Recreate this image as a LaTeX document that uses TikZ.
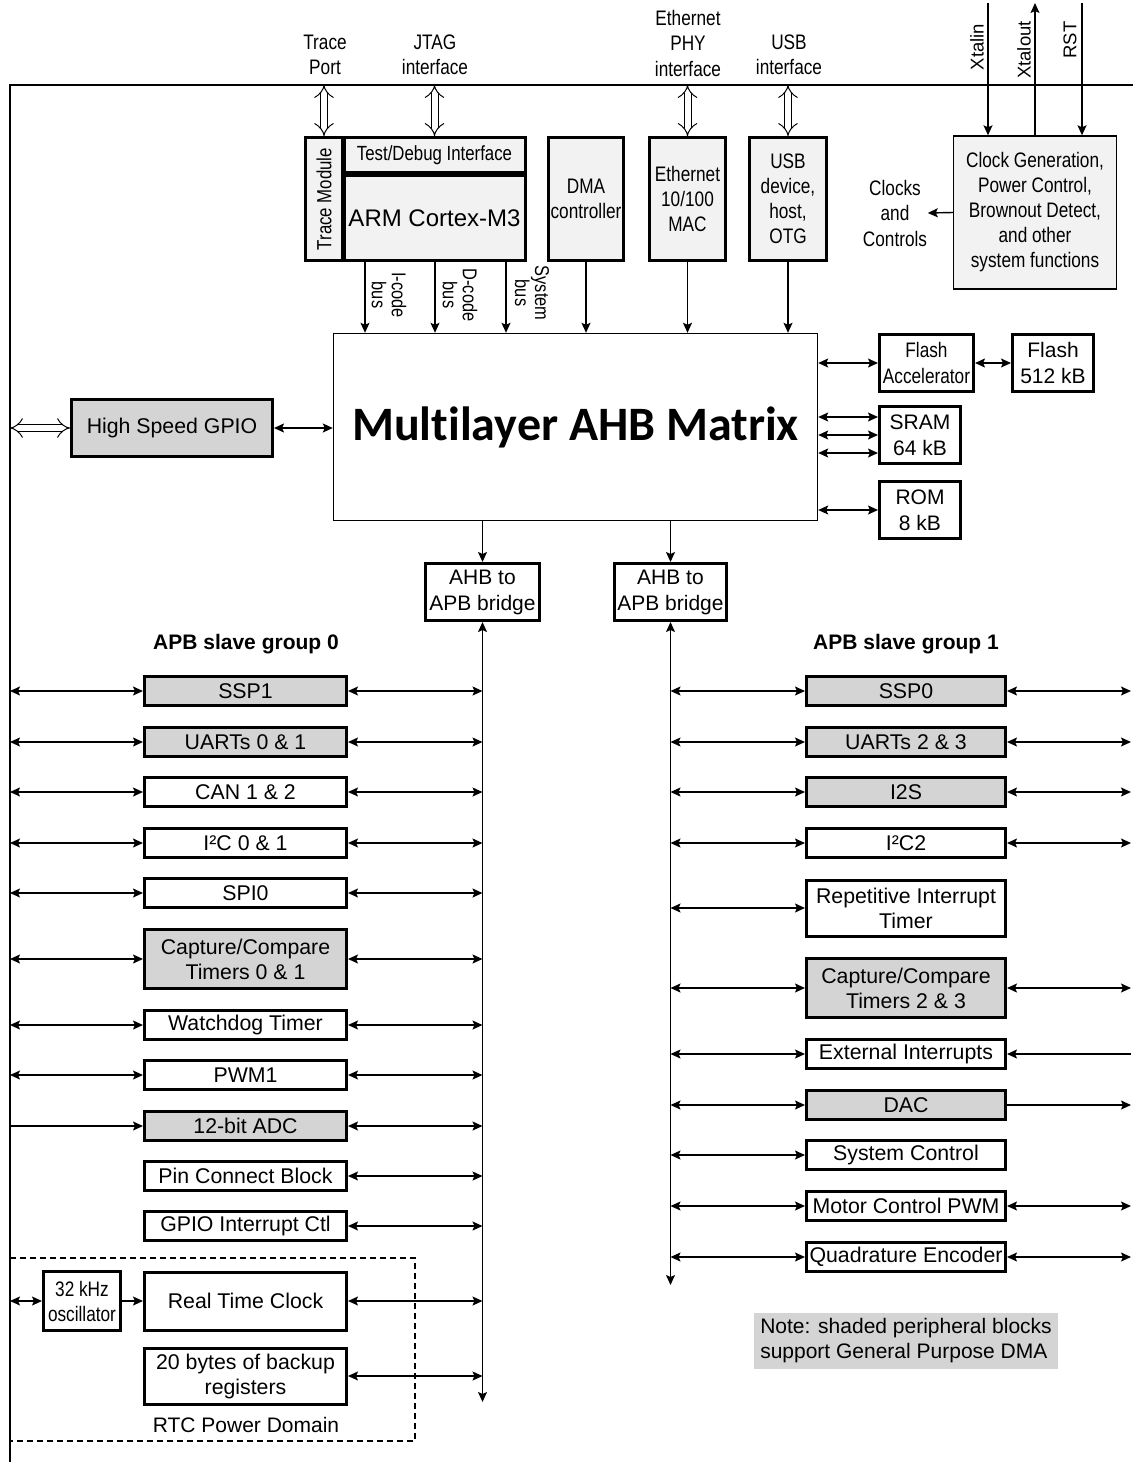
\documentclass[tikz,border=0pt]{standalone}
\usepackage{fontspec}
\setmainfont{Liberation Sans}
\newfontfamily\narrowsans[FakeStretch=0.82]{Liberation Sans}
\newfontfamily\calibri[Ligatures=NoCommon]{Carlito}
\usepackage{tikz}
\usetikzlibrary{arrows.meta}
\definecolor{dmagray}{HTML}{D4D4D4}
\definecolor{coregray}{HTML}{F2F2F2}

\begin{document}
\begin{tikzpicture}[x=1pt,y=-1pt,>={Stealth[length=10pt,width=9pt,inset=2pt]},line width=1.4pt,
  box/.style={draw,line width=3pt,fill=white,inner sep=0pt,align=center,font=\fontsize{21.3}{25}\selectfont},
  dma box/.style={box,fill=dmagray},
  left box/.style={minimum width=202pt,minimum height=29pt},
  right box/.style={minimum width=199pt,minimum height=29pt},
  core box/.style={box,fill=coregray,font=\narrowsans\fontsize{21}{25}\selectfont},
  mem box/.style={box,minimum width=81pt,minimum height=57pt,font=\fontsize{21}{26}\selectfont},
  tag text/.style={align=center,inner sep=0pt,font=\narrowsans\fontsize{21}{25.5}\selectfont},
  bus tag/.style={tag text,rotate=-90,font=\narrowsans\fontsize{20}{20}\selectfont},
  pin tag/.style={tag text,rotate=90,font=\fontsize{18.5}{20}\selectfont},
  group title/.style={inner sep=0pt,font=\fontsize{21}{24}\selectfont\bfseries},
  hollow/.style={double,double distance=6pt,line width=1pt,arrows={Implies[length=10pt,width=22pt]-Implies[length=10pt,width=22pt]}}]
  \useasboundingbox (0,0) rectangle (1133,1462);
  \coordinate (frame tl) at (10,85);
  \coordinate (frame tr) at (1133,85);
  \coordinate (frame bl) at (10,1462);
  \coordinate (edge r) at (1131,85);
  \coordinate (lbus end) at (482.5,1402);
  \coordinate (rbus end) at (670.5,1285);
  \coordinate (ibus) at (365,262);
  \coordinate (dbus) at (435,262);
  \coordinate (sbus) at (506,262);
  \coordinate (xin) at (988,3);
  \coordinate (xout) at (1035,3);
  \coordinate (rst) at (1082,3);
  \draw (frame tr) -- (frame tl) -- (frame bl);
  \draw[line width=1.2pt,dash pattern=on 6pt off 4pt] (10,1258) rectangle (415,1441);

  \node[tag text] (trace port) at (325,55) {Trace\\Port};
  \node[tag text] (jtag port) at (435,55) {JTAG\\interface};
  \node[tag text] (phy port) at (688,43) {Ethernet\\PHY\\interface};
  \node[tag text] (usb port) at (789,55) {USB\\interface};
  \node[pin tag] (xtalin tag) at (977,47) {Xtalin};
  \node[pin tag] (xtalout tag) at (1024,50) {Xtalout};
  \node[pin tag] (rst tag) at (1070,40) {RST};

  \node[core box,minimum width=37pt,minimum height=123pt,font=\narrowsans\fontsize{20.5}{25}\selectfont] (trace) at (324,199) {\rotatebox{90}{Trace Module}};
  \node[core box,minimum width=181pt,minimum height=35pt,font=\narrowsans\fontsize{20.5}{25}\selectfont] (debug) at (434.5,155) {Test/Debug Interface};
  \node[core box,minimum width=181pt,minimum height=85pt,font=\fontsize{24}{26}\selectfont] (cortex) at (434.5,218) {ARM Cortex-M3};
  \node[core box,minimum width=75pt,minimum height=123pt] (dma) at (586,199) {DMA\\controller};
  \node[core box,minimum width=76pt,minimum height=123pt] (eth) at (687.5,199) {Ethernet\\10/100\\MAC};
  \node[core box,minimum width=77pt,minimum height=123pt] (usb) at (788,199) {USB\\device,\\host,\\OTG};
  \node[core box,line width=1.4pt,minimum width=163pt,minimum height=153pt] (clock) at (1035,212.5) {Clock Generation,\\Power Control,\\Brownout Detect,\\and other\\system functions};
  \node[tag text] (clock tag) at (895,213) {Clocks\\and\\Controls};
  \node[bus tag] (ibus tag) at (389,295) {I-code\\bus};
  \node[bus tag] (dbus tag) at (460,295) {D-code\\bus};
  \node[bus tag] (sbus tag) at (532,293) {System\\bus};

  \node[draw,fill=white,minimum width=484pt,minimum height=187pt,font=\calibri\bfseries\fontsize{48}{50}\selectfont] (matrix) at (575.5,427) {Multilayer AHB Matrix};
  \node[mem box,minimum width=94pt,font=\narrowsans\fontsize{21}{26}\selectfont] (flashacc) at (926.5,363) {Flash\\Accelerator};
  \node[mem box] (flash) at (1053,363) {Flash\\512 kB};
  \node[mem box] (sram) at (920,435) {SRAM\\64 kB};
  \node[mem box] (rom) at (920,510) {ROM\\8 kB};
  \coordinate (sram a) at ([yshift=18pt]sram.west);
  \coordinate (sram c) at ([yshift=-18pt]sram.west);
  \node[dma box,minimum width=201pt,minimum height=57pt] (hsgpio) at (172,428) {High Speed GPIO};
  \node[box,minimum width=114pt,minimum height=57pt,font=\fontsize{21}{26}\selectfont] (bridge0) at (482.5,592) {AHB to\\APB bridge};
  \node[box,minimum width=112pt,minimum height=57pt,font=\fontsize{21}{26}\selectfont] (bridge1) at (670.5,592) {AHB to\\APB bridge};

  \node[group title] (group0) at (246,644) {APB slave group 0};
  \node[group title] (group1) at (906,644) {APB slave group 1};

  \node[dma box,left box] (ssp1) at (245.5,691) {SSP1};
  \node[dma box,left box] (uarts01) at (245.5,742) {UARTs 0 \& 1};
  \node[box,left box] (can) at (245.5,792) {CAN 1 \& 2};
  \node[box,left box] (iic01) at (245.5,843) {I²C 0 \& 1};
  \node[box,left box] (spi0) at (245.5,893) {SPI0};
  \node[dma box,left box,minimum height=59pt] (cap01) at (245.5,959) {Capture/Compare\\Timers 0 \& 1};
  \node[box,left box] (wdt) at (245.5,1025) {Watchdog Timer};
  \node[box,left box] (pwm1) at (245.5,1075) {PWM1};
  \node[dma box,left box] (adc) at (245.5,1126) {12-bit ADC};
  \node[box,left box] (pinconn) at (245.5,1176) {Pin Connect Block};
  \node[box,left box] (gpioint) at (245.5,1226) {GPIO Interrupt Ctl};
  \node[box,left box,minimum height=58pt] (rtc) at (245.5,1301) {Real Time Clock};
  \node[box,left box,minimum height=56pt] (backup) at (245.5,1376) {20 bytes of backup\\registers};
  \node[box,minimum width=77pt,minimum height=59pt,font=\narrowsans\fontsize{21}{25}\selectfont] (osc) at (82,1301) {32 kHz\\oscillator};
  \node[font=\fontsize{21}{24}\selectfont,inner sep=0pt] (rtc domain) at (246,1425) {RTC Power Domain};

  \node[dma box,right box] (ssp0) at (906,691) {SSP0};
  \node[dma box,right box] (uarts23) at (906,742) {UARTs 2 \& 3};
  \node[dma box,right box] (iis) at (906,792) {I2S};
  \node[box,right box] (iic2) at (906,843) {I²C2};
  \node[box,right box,minimum height=56pt] (rit) at (906,908) {Repetitive Interrupt\\Timer};
  \node[dma box,right box,minimum height=59pt] (cap23) at (906,988) {Capture/Compare\\Timers 2 \& 3};
  \node[box,right box] (eint) at (906,1054) {External Interrupts};
  \node[dma box,right box] (dac) at (906,1105) {DAC};
  \node[box,right box] (sysctl) at (906,1155) {System Control};
  \node[box,right box] (mcpwm) at (906,1206) {Motor Control PWM};
  \node[box,right box] (qei) at (906,1257) {Quadrature Encoder};
  \node[fill=dmagray,inner sep=6pt,align=left,font=\fontsize{21}{25}\selectfont] (note) at (906,1341) {Note: shaded peripheral blocks\\support General Purpose DMA};

\path
  (trace.north |- frame tl) edge[hollow] (trace.north)
  (debug.north |- frame tl) edge[hollow] (debug.north)
  (eth.north |- frame tl) edge[hollow] (eth.north)
  (usb.north |- frame tl) edge[hollow] (usb.north)
  (hsgpio.west -| frame tl) edge[hollow] (hsgpio.west)
  (xin) edge[->] (xin |- clock.north)
  (xout |- clock.north) edge[->] (xout)
  (rst) edge[->] (rst |- clock.north)
  (clock.west) edge[->] (clock tag.east)
  (ibus) edge[->] (ibus |- matrix.north)
  (dbus) edge[->] (dbus |- matrix.north)
  (sbus) edge[->] (sbus |- matrix.north)
  (dma.south) edge[->] (dma.south |- matrix.north)
  (eth.south) edge[->] (eth.south |- matrix.north)
  (usb.south) edge[->] (usb.south |- matrix.north)
  (matrix.east |- flashacc.west) edge[<->] (flashacc.west)
  (flashacc.east) edge[<->] (flash.west)
  (sram a -| matrix.east) edge[<->] (sram a)
  (sram.west -| matrix.east) edge[<->] (sram.west)
  (sram c -| matrix.east) edge[<->] (sram c)
  (matrix.east |- rom.west) edge[<->] (rom.west)
  (hsgpio.east) edge[<->] (hsgpio.east -| matrix.west)
  (bridge0.north |- matrix.south) edge[->] (bridge0.north)
  (bridge1.north |- matrix.south) edge[->] (bridge1.north)
  (bridge0.south) edge[<->] (lbus end)
  (bridge1.south) edge[<->] (rbus end)
  (ssp1.west -| frame tl) edge[<->] (ssp1.west)
  (uarts01.west -| frame tl) edge[<->] (uarts01.west)
  (can.west -| frame tl) edge[<->] (can.west)
  (iic01.west -| frame tl) edge[<->] (iic01.west)
  (spi0.west -| frame tl) edge[<->] (spi0.west)
  (cap01.west -| frame tl) edge[<->] (cap01.west)
  (wdt.west -| frame tl) edge[<->] (wdt.west)
  (pwm1.west -| frame tl) edge[<->] (pwm1.west)
  (adc.west -| frame tl) edge[->] (adc.west)
  (osc.west -| frame tl) edge[<->] (osc.west)
  (osc.east) edge[->] (rtc.west)
  (ssp1.east) edge[<->] (ssp1.east -| lbus end)
  (uarts01.east) edge[<->] (uarts01.east -| lbus end)
  (can.east) edge[<->] (can.east -| lbus end)
  (iic01.east) edge[<->] (iic01.east -| lbus end)
  (spi0.east) edge[<->] (spi0.east -| lbus end)
  (cap01.east) edge[<->] (cap01.east -| lbus end)
  (wdt.east) edge[<->] (wdt.east -| lbus end)
  (pwm1.east) edge[<->] (pwm1.east -| lbus end)
  (adc.east) edge[<->] (adc.east -| lbus end)
  (pinconn.east) edge[<->] (pinconn.east -| lbus end)
  (gpioint.east) edge[<->] (gpioint.east -| lbus end)
  (rtc.east) edge[<->] (rtc.east -| lbus end)
  (backup.east) edge[<->] (backup.east -| lbus end)
  (rbus end |- ssp0.west) edge[<->] (ssp0.west)
  (rbus end |- uarts23.west) edge[<->] (uarts23.west)
  (rbus end |- iis.west) edge[<->] (iis.west)
  (rbus end |- iic2.west) edge[<->] (iic2.west)
  (rbus end |- rit.west) edge[<->] (rit.west)
  (rbus end |- cap23.west) edge[<->] (cap23.west)
  (rbus end |- eint.west) edge[<->] (eint.west)
  (rbus end |- dac.west) edge[<->] (dac.west)
  (rbus end |- sysctl.west) edge[<->] (sysctl.west)
  (rbus end |- mcpwm.west) edge[<->] (mcpwm.west)
  (rbus end |- qei.west) edge[<->] (qei.west)
  (ssp0.east) edge[<->] (ssp0.east -| edge r)
  (uarts23.east) edge[<->] (uarts23.east -| edge r)
  (iis.east) edge[<->] (iis.east -| edge r)
  (iic2.east) edge[<->] (iic2.east -| edge r)
  (cap23.east) edge[<->] (cap23.east -| edge r)
  (eint.east -| edge r) edge[->] (eint.east)
  (dac.east) edge[->] (dac.east -| edge r)
  (mcpwm.east) edge[<->] (mcpwm.east -| edge r)
  (qei.east) edge[<->] (qei.east -| edge r)
;
\end{tikzpicture}
\end{document}
